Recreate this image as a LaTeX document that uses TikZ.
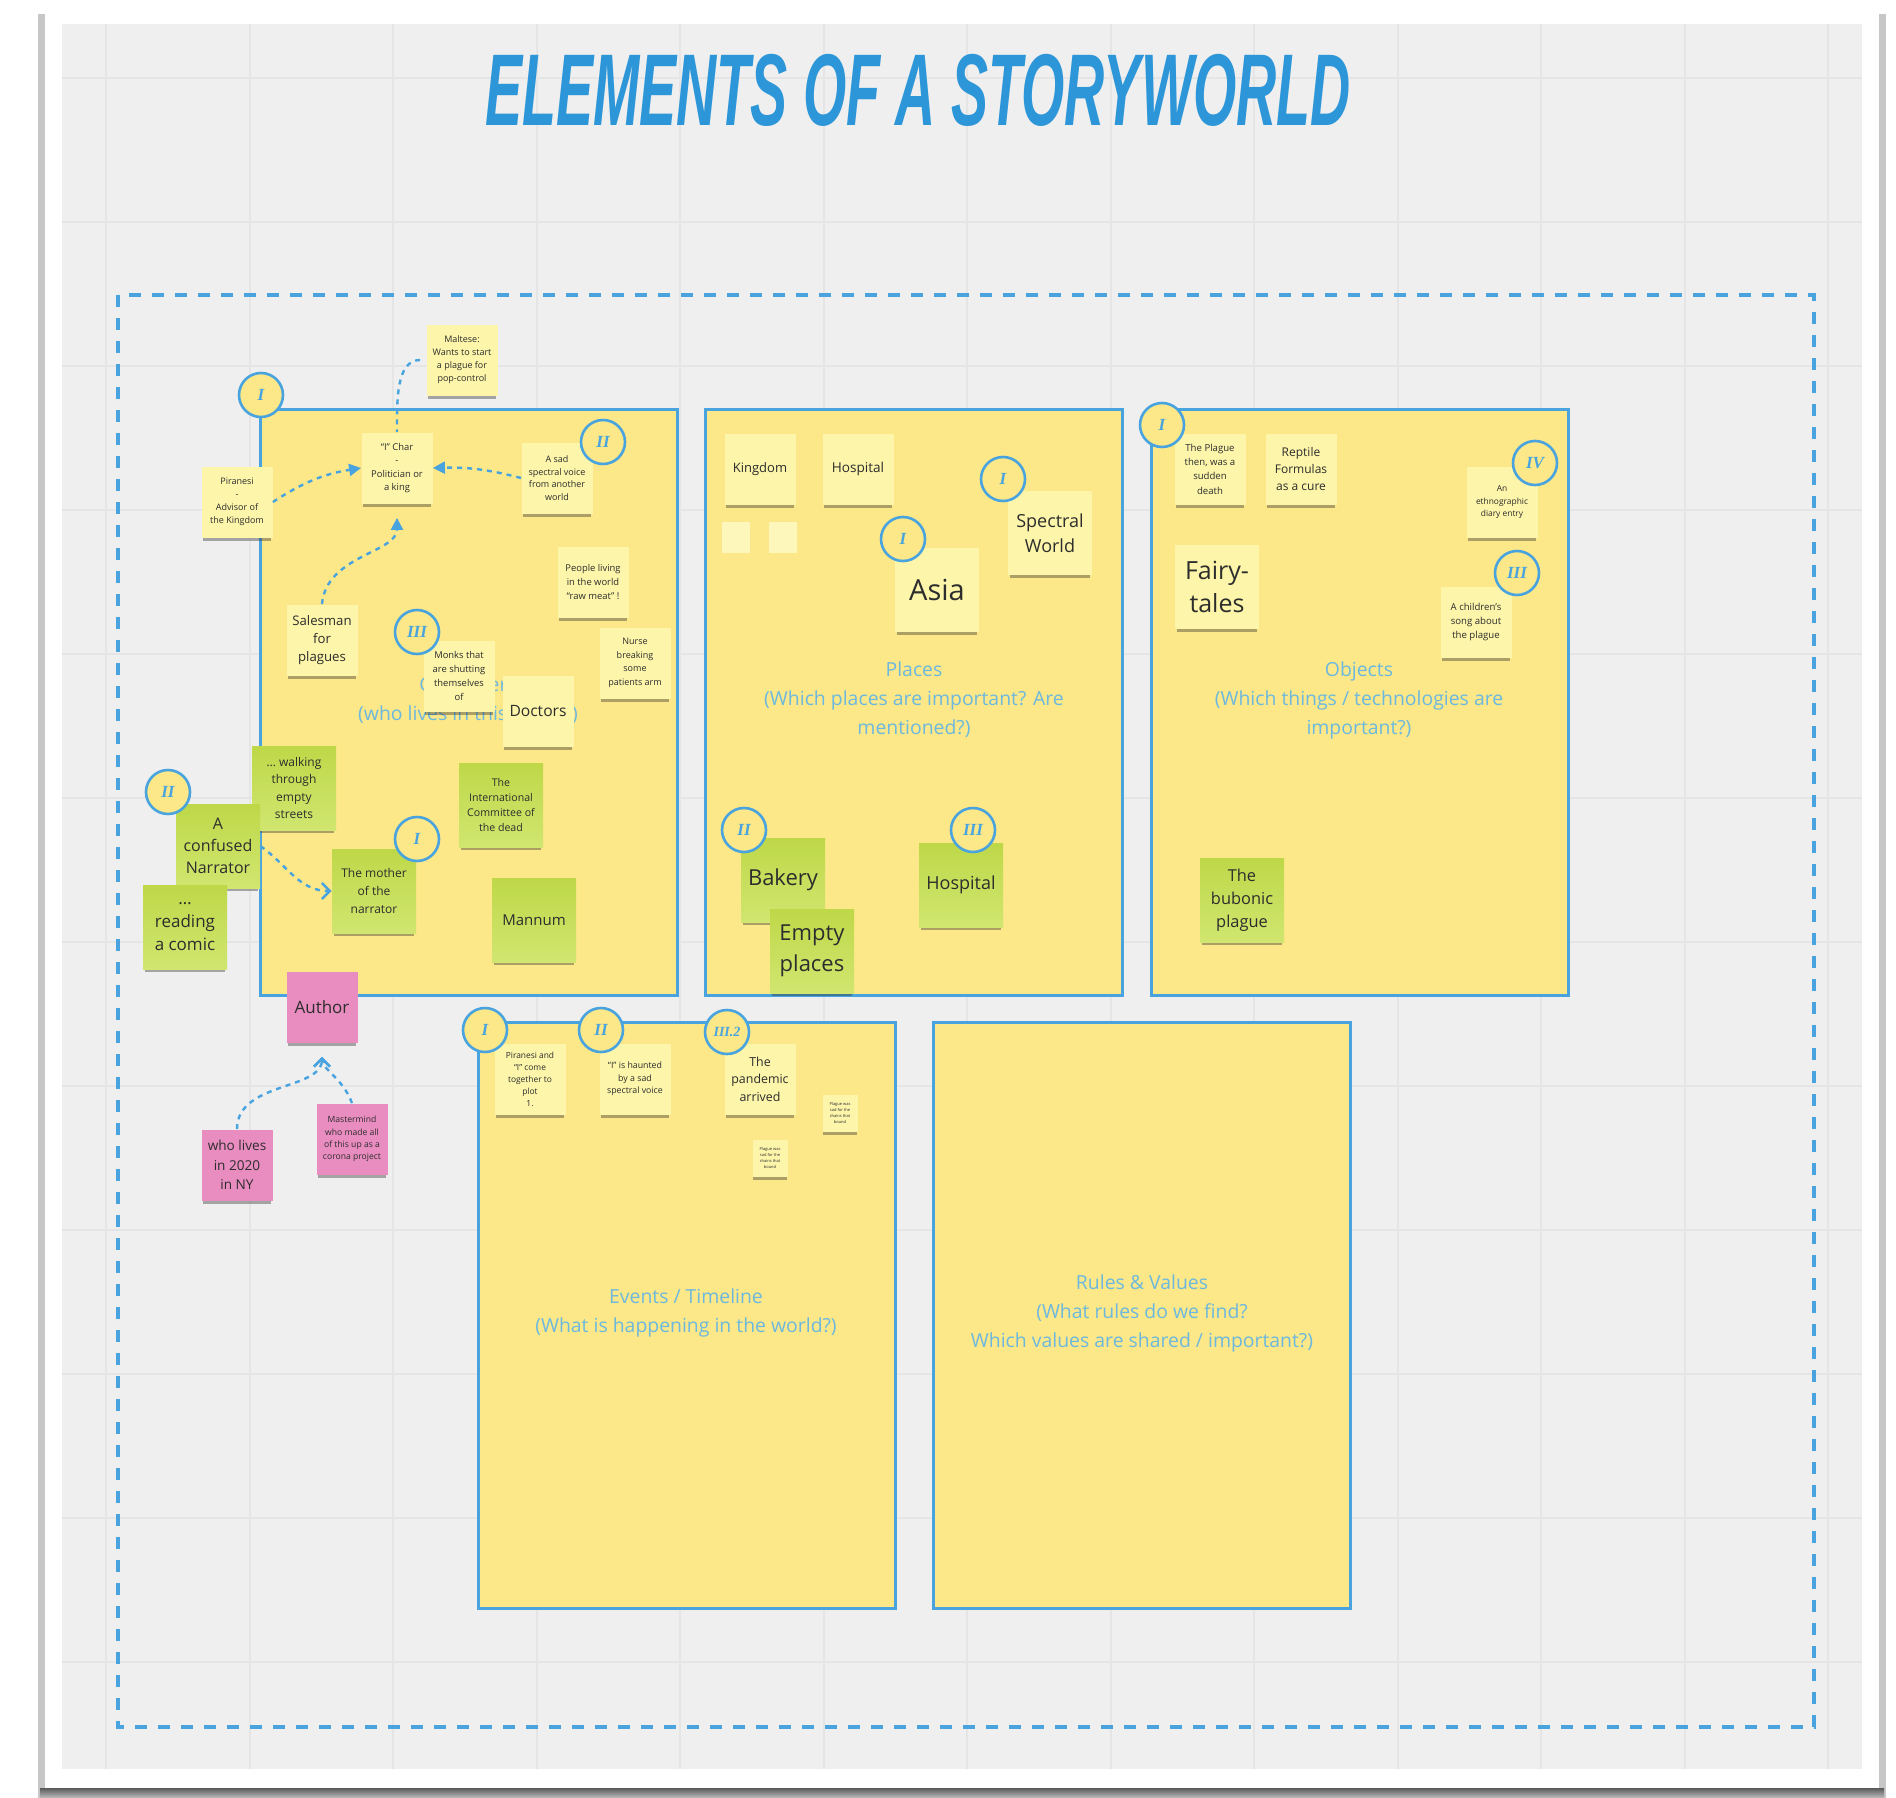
\documentclass[tikz,border=0pt]{standalone}
\usepackage{fontspec}
\setmainfont{Open Sans}
\newfontfamily\titlefont{Liberation Sans}
\newfontfamily\numfont{Liberation Serif}
\usepackage{graphicx}
\usepackage{tikz}
\usetikzlibrary{arrows,arrows.meta,shapes,positioning,shadows}
\usepackage{xcolor}
\definecolor{mbpaper}{RGB}{239,239,239}
\definecolor{mbgrid}{RGB}{229,229,229}
\definecolor{mbblue}{RGB}{72,163,222}
\definecolor{mbtitle}{RGB}{44,150,216}
\definecolor{mblabel}{RGB}{108,184,222}
\definecolor{mbframe}{RGB}{252,232,136}
\definecolor{mbnote}{RGB}{252,245,170}
\definecolor{mbgreentop}{RGB}{190,216,72}
\definecolor{mbgreenbot}{RGB}{208,230,112}
\definecolor{mbpink}{RGB}{233,140,192}
\definecolor{mbink}{RGB}{45,45,45}
\newcommand{\notefont}[2]{\fontsize{#1}{#2}\selectfont}
\tikzstyle{area} = [rectangle, draw=mbblue, line width=1.5pt, fill=mbframe, minimum width=208.5pt, minimum height=293pt]
\tikzstyle{areatext} = [text=mblabel, align=center, font=\notefont{9.7}{14.5}]
\tikzstyle{note} = [rectangle, minimum width=35.5pt, minimum height=35.5pt, inner sep=1pt, align=center, text=mbink, fill=mbnote, drop shadow={shadow xshift=0pt, shadow yshift=-2.4pt, shadow scale=0.96, opacity=0.4, fill=black!80}]
\tikzstyle{bignote} = [note, minimum width=42pt, minimum height=42pt]
\tikzstyle{greennote} = [bignote, top color=mbgreentop, bottom color=mbgreenbot]
\tikzstyle{pinknote} = [note, fill=mbpink]
\tikzstyle{blank} = [rectangle, fill=mbnote!80!white, minimum width=14pt, minimum height=15.5pt]
\tikzstyle{marker} = [circle, draw=mbblue, line width=1.3pt, fill=mbframe, minimum size=22pt, inner sep=0pt, text=mbblue, font=\numfont\bfseries\itshape\notefont{8.5}{8.5}]
\tikzstyle{link} = [mbblue, line width=1.2pt, dash pattern=on 2.5pt off 2.5pt]
\tikzstyle{fullhead} = [-{Triangle[length=6pt,width=6pt]}]
\tikzstyle{openhead} = [-{Straight Barb[length=4pt,width=8pt]}]

\begin{document}
\begin{tikzpicture}[x=0.5pt, y=-0.5pt]
\useasboundingbox (0,0) rectangle (1896,1798);
% Board, card and grid
\fill[white] (0,0) rectangle (1896,1798);
\fill[black!22] (38,14) rectangle (1886,1798);
\shade[top color=black!65, bottom color=black!25] (40,1788) rectangle (1884,1798);
\fill[white] (45,5) rectangle (1879,1788);
\fill[mbpaper] (62,24) rectangle (1862,1769);
\foreach \gx in {106,249.5,...,1850} \draw[mbgrid, line width=1pt] (\gx,24) -- (\gx,1769);
\foreach \gy in {78,222,...,1760} \draw[mbgrid, line width=1pt] (62,\gy) -- (1862,\gy);

% Title
\node (title) at (918,90) {\scalebox{0.545}[1]{\titlefont\bfseries\itshape\notefont{51}{51}\color{mbtitle}ELEMENTS OF A STORYWORLD}};

% Dashed outline round everything
\draw[mbblue, line width=1.6pt, dash pattern=on 6pt off 5.5pt] (118,295) rectangle (1814,1727);

% The five areas
\node (chars) [area] at (468.5,702) {};
\node (places) [area] at (914,702) {};
\node (objects) [area] at (1359.5,702) {};
\node (events) [area] at (686.5,1315.5) {};
\node (rules) [area] at (1142,1315.5) {};
\node (charstext) [areatext] at (468,700) {Characters\\(who lives in this world?)};
\node (placestext) [areatext] at (914,700) {Places\\(Which places are important? Are\\mentioned?)};
\node (objectstext) [areatext] at (1359,700) {Objects\\(Which things / technologies are\\important?)};
\node (eventstext) [areatext] at (686,1313) {Events / Timeline\\(What is happening in the world?)};
\node (rulestext) [areatext] at (1142,1313) {Rules \& Values\\(What rules do we find?\\Which values are shared / important?)};

% Characters
\node (maltese) [note, font=\notefont{4.5}{6.5}] at (462,360) {Maltese:\\Wants to start\\a plague for\\pop-control};
\node (ichar) [note, font=\notefont{4.7}{6.8}] at (397,468) {“I” Char\\-\\Politician or\\a king};
\node (piranesi) [note, font=\notefont{4.5}{6.5}] at (237,502) {Piranesi\\-\\Advisor of\\the Kingdom};
\node (sadvoice) [note, font=\notefont{4.5}{6.3}] at (557,478) {A sad\\spectral voice\\from another\\world};
\node (people) [note, font=\notefont{4.7}{7}] at (593,582) {People living\\in the world\\“raw meat” !};
\node (nurse) [note, font=\notefont{4.5}{6.8}] at (635,663) {Nurse\\breaking\\some\\patients arm};
\node (salesman) [note, font=\notefont{6.6}{9}] at (322,640) {Salesman\\for\\plagues};
\node (monks) [note, font=\notefont{4.7}{7}] at (459,676) {Monks that\\are shutting\\themselves\\of};
\node (doctors) [note, font=\notefont{7.8}{9}] at (538,711) {Doctors};
\node (walking) [greennote, font=\notefont{6}{8.8}] at (294,788) {… walking\\through\\empty\\streets};
\node (narrator) [greennote, font=\notefont{8}{11}] at (218,846) {A\\confused\\Narrator};
\node (reading) [greennote, font=\notefont{8.5}{11.5}] at (185,927) {…\\reading\\a comic};
\node (mother) [greennote, font=\notefont{6}{8.8}] at (374,891) {The mother\\of the\\narrator};
\node (committee) [greennote, font=\notefont{5.3}{7.5}] at (501,805) {The\\International\\Committee of\\the dead};
\node (mannum) [greennote, font=\notefont{7.5}{9}] at (534,920) {Mannum};
\node (author) [pinknote, font=\notefont{8.5}{10}] at (322,1007) {Author};
\node (nylives) [pinknote, font=\notefont{6.8}{9.6}] at (237,1165) {who lives\\in 2020\\in NY};
\node (mastermind) [pinknote, font=\notefont{4.3}{6.2}] at (352,1139) {Mastermind\\who made all\\of this up as a\\corona project};

% Places
\node (kingdom) [note, font=\notefont{6.5}{8}] at (760,469) {Kingdom};
\node (hospital) [note, font=\notefont{6.8}{8}] at (858,469) {Hospital};
\node (blankA) [blank] at (736,537) {};
\node (blankB) [blank] at (783,537) {};
\node (spectral) [bignote, font=\notefont{9}{12.7}] at (1050,533) {Spectral\\World};
\node (asia) [bignote, font=\notefont{14.5}{16}] at (937,590) {Asia};
\node (bakery) [greennote, font=\notefont{11}{14}] at (783,880) {Bakery};
\node (emptyplaces) [greennote, font=\notefont{11}{15.5}] at (812,951) {Empty\\places};
\node (hospitalB) [greennote, font=\notefont{9}{11}] at (961,885) {Hospital};

% Objects
\node (plaguethen) [note, font=\notefont{4.8}{7.2}] at (1210,469) {The Plague\\then, was a\\sudden\\death};
\node (reptile) [note, font=\notefont{6}{8.6}] at (1301,469) {Reptile\\Formulas\\as a cure};
\node (ethno) [note, font=\notefont{4.2}{6.3}] at (1502,502) {An\\ethnographic\\diary entry};
\node (children) [note, font=\notefont{4.8}{7.2}] at (1476,622) {A children's\\song about\\the plague};
\node (fairy) [bignote, font=\notefont{12.5}{16.5}] at (1217,587) {Fairy-\\tales};
\node (bubonic) [greennote, font=\notefont{8.2}{11.5}] at (1242,900) {The\\bubonic\\plague};

% Events
\node (plot) [note, font=\notefont{4.2}{6}] at (530,1079) {Piranesi and\\“I” come\\together to\\plot\\1.};
\node (haunted) [note, font=\notefont{4.4}{6.3}] at (635,1079) {“I” is haunted\\by a sad\\spectral voice};
\node (pandemic) [note, font=\notefont{6.2}{8.8}] at (760,1079) {The\\pandemic\\arrived};
\node (tinyA) [note, minimum width=17.5pt, minimum height=18.5pt, font=\notefont{2}{3}] at (840,1113) {Plague was\\sad for the\\chains that\\bound};
\node (tinyB) [note, minimum width=17.5pt, minimum height=18.5pt, font=\notefont{2}{3}] at (770,1158) {Plague was\\sad for the\\chains that\\bound};

% Connectors
\draw[link, shorten <=3pt] (maltese.west) to[out=180, in=90] (ichar.north);
\draw[link, fullhead] (piranesi.east) to[bend left=12] (ichar.west);
\draw[link, fullhead] (sadvoice.west) to[bend right=8] (ichar.east);
\draw[link, fullhead, shorten >=7pt] (salesman.north) to[out=85, in=-90] (ichar.south);
\draw[link, openhead] (narrator.east) to[out=-35, in=180] (mother.west);
\draw[link, openhead, shorten >=7pt] (nylives.north) to[out=90, in=-90] (author.south);
\draw[link, openhead, shorten >=7pt] (mastermind.north) to[out=110, in=-90] (author.south);

% Markers
\node (mkA) [marker] at (261,395) {I};
\node (mkB) [marker] at (603,442) {II};
\node (mkC) [marker] at (417,632) {III};
\node (mkD) [marker] at (168,792) {II};
\node (mkE) [marker] at (417,839) {I};
\node (mkF) [marker] at (1003,479) {I};
\node (mkG) [marker] at (903,539) {I};
\node (mkH) [marker] at (744,830) {II};
\node (mkJ) [marker] at (973,830) {III};
\node (mkK) [marker] at (1162,425) {I};
\node (mkL) [marker] at (1535,463) {IV};
\node (mkM) [marker] at (1517,573) {III};
\node (mkN) [marker] at (485,1030) {I};
\node (mkP) [marker] at (601,1030) {II};
\node (mkQ) [marker, font=\numfont\bfseries\itshape\notefont{7}{7}] at (727,1032) {III.2};
\end{tikzpicture}
\end{document}
